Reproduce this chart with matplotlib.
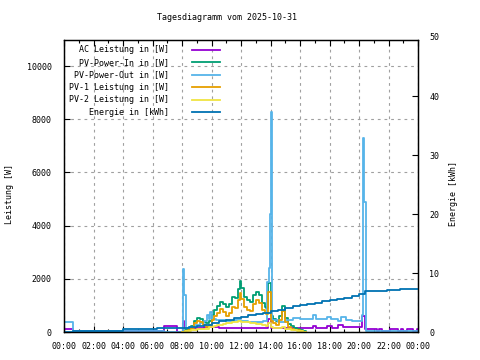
import matplotlib
matplotlib.use("Agg")
import matplotlib.pyplot as plt
from matplotlib.ticker import MultipleLocator, FixedLocator
import matplotlib.transforms as mtransforms

plt.rcParams['font.family'] = ['DejaVu Sans Mono']
FS = 6

title = "Tagesdiagramm vom 2025-10-31"
labels = ["AC Leistung in [W]", "PV-Power-In in [W]", "PV-Power-Out in [W]",
          "PV-1 Leistung in [W]", "PV-2 Leistung in [W]", "Energie in [kWh]"]
colors = ["#9400d3", "#009e73", "#56b4e9", "#e69f00", "#f0e442", "#0072b2"]
xtick_labels = ["00:00", "02:00", "04:00", "06:00", "08:00", "10:00", "12:00",
                "14:00", "16:00", "18:00", "20:00", "22:00", "00:00"]

# AC Leistung [W]
ac_hours = [0.0, 0.58, 6.8, 7.64, 8.05, 8.15, 9.5, 10.5, 13.8, 14.05, 16.9, 17.1, 17.8,
            18.2, 18.6, 18.9, 20.2, 20.4, 21.2, 21.36, 21.56, 22.1, 22.64, 22.85,
            22.98, 23.25, 23.66, 23.93, 24.0]
ac_watt = [125, 55, 215, 0, 414, 150, 170, 160, 480, 150, 225, 150, 225,
           160, 250, 200, 610, 100, 40, 100, 40, 100, 40, 100,
           40, 100, 40, 100, 100]

# PV day series [W]
pv_hours = [8.0, 8.2, 8.4, 8.6, 8.8, 9.0, 9.2, 9.4, 9.6, 9.8, 10.0, 10.2, 10.4, 10.6,
            10.8, 11.0, 11.2, 11.4, 11.6, 11.8, 11.9, 12.0, 12.2, 12.4, 12.6, 12.8,
            13.0, 13.2, 13.4, 13.6, 13.7, 13.85, 14.0, 14.2, 14.4, 14.6, 14.8, 15.0,
            15.2, 15.4, 15.6, 15.8, 16.0, 16.2, 16.4]
pv_in = [0, 60, 120, 220, 420, 530, 480, 370, 330, 430, 650, 840, 960, 1130,
         1050, 940, 1060, 1320, 1290, 1600, 1930, 1650, 1330, 1190, 1130, 1380,
         1510, 1390, 1090, 950, 920, 1830, 600, 490, 410, 590, 970, 510,
         310, 210, 160, 110, 60, 20, 0]
pv1 = [0, 40, 80, 160, 330, 420, 380, 250, 200, 260, 450, 600, 700, 850,
       750, 620, 720, 950, 900, 1200, 1480, 1250, 950, 820, 780, 1050,
       1200, 1100, 820, 700, 680, 1500, 420, 330, 260, 450, 800, 380,
       200, 120, 90, 60, 30, 10, 0]
pv2 = [0, 20, 40, 60, 90, 110, 100, 120, 130, 170, 200, 240, 260, 280,
       300, 320, 340, 370, 390, 400, 400, 390, 380, 370, 350, 330,
       310, 290, 270, 250, 240, 330, 180, 160, 150, 140, 170, 130,
       110, 90, 70, 50, 30, 10, 0]

# PV-Power-Out [W]
out_hours = [0.0, 0.58, 6.8, 8.05, 8.15, 8.25, 8.5, 8.8, 9.2, 9.5, 9.7, 9.8, 9.9, 10.0,
             10.3, 11.0, 11.5, 12.0, 12.5, 13.0, 13.5, 13.75, 13.88, 13.95, 14.02,
             14.08, 14.5, 15.0, 15.5, 16.0, 16.9, 17.1, 17.8, 18.1, 18.6, 18.75, 19.1,
             19.5, 20.2, 20.3, 20.37, 20.45, 24.0]
out_watt = [390, 45, 0, 2360, 1390, 150, 200, 260, 330, 400, 650, 500, 750, 500,
            450, 430, 450, 420, 390, 380, 400, 1890, 2400, 4440, 8280,
            450, 390, 450, 515, 475, 640, 475, 575, 475, 414, 575, 450,
            414, 640, 7300, 4900, 37, 37]

# Energie [kWh]
en_hours = [0.0, 0.58, 4.0, 6.3, 8.5, 9.0, 9.5, 10.0, 10.5, 11.0, 11.5, 12.0, 12.5,
            13.0, 13.5, 14.0, 14.5, 15.0, 15.5, 16.0, 16.5, 17.0, 17.5, 18.0, 18.5,
            19.0, 19.5, 20.0, 20.4, 21.9, 22.8, 24.0]
en_kwh = [0.0, 0.2, 0.45, 0.6, 0.8, 1.0, 1.25, 1.55, 1.8, 2.05, 2.3, 2.6, 2.85,
          3.05, 3.25, 3.5, 3.8, 4.1, 4.35, 4.6, 4.8, 5.0, 5.2, 5.4, 5.6,
          5.85, 6.1, 6.4, 6.95, 7.1, 7.35, 7.35]

W, H = 480, 360
fig = plt.figure(figsize=(4.8, 3.6), dpi=100)
ax = fig.add_axes([64 / W, 1 - 332 / H, (418 - 64) / W, (332 - 39.5) / H])
ax2 = ax.twinx()

lw = 1.3
h_ac, = ax.step(ac_hours, ac_watt, where='post', color=colors[0], lw=lw)
h_in, = ax.step(pv_hours, pv_in, where='post', color=colors[1], lw=lw)
h_out, = ax.step(out_hours, out_watt, where='post', color=colors[2], lw=lw)
h_p1, = ax.step(pv_hours, pv1, where='post', color=colors[3], lw=lw)
h_p2, = ax.step(pv_hours, pv2, where='post', color=colors[4], lw=lw)
h_en, = ax2.step(en_hours, en_kwh, where='post', color=colors[5], lw=lw)

ax.set_xlim(0, 24)
ax.set_ylim(0, 11000)
ax2.set_ylim(0, 49.6)

ax.xaxis.set_major_locator(MultipleLocator(2))
ax.xaxis.set_minor_locator(MultipleLocator(1))
ax.set_xticks(range(0, 25, 2))
ax.set_xticklabels(xtick_labels)
ax.yaxis.set_major_locator(FixedLocator([0, 2000, 4000, 6000, 8000, 10000]))
ax2.yaxis.set_major_locator(FixedLocator([0, 10, 20, 30, 40]))

ax.tick_params(axis='x', which='both', direction='in', top=True, labelsize=FS, pad=7)
ax.tick_params(axis='x', which='major', length=4, width=0.8)
ax.tick_params(axis='x', which='minor', length=2, width=0.8)
ax.tick_params(axis='y', direction='in', length=4, width=0.8, labelsize=FS, pad=9)
ax2.tick_params(axis='y', direction='in', length=4, width=0.8, labelsize=FS, pad=8)

for a in (ax, ax2):
    for s in a.spines.values():
        s.set_linewidth(0.9)
        s.set_color('black')

# extra '50' label for right axis at its data position
trans = mtransforms.blended_transform_factory(ax2.transAxes, ax2.transData)
ax2.text(1.0 + 11 / 354, 50, "50", transform=trans, fontsize=FS, ha='left', va='center',
         clip_on=False)

ax.grid(True, which='major', axis='both', color='#a0a0a0', lw=0.8, linestyle=(0, (2.5, 3.5)))
ax.set_axisbelow(True)

fig.text(227 / W, 1 - 18 / H, title, fontsize=FS, ha='center', va='center')
fig.text(10 / W, 1 - 194.5 / H, "Leistung [W]", fontsize=FS, rotation=90, ha='center', va='center')
fig.text(453 / W, 1 - 194 / H, "Energie [kWh]", fontsize=FS, rotation=90, ha='center', va='center')

maxlen = max(len(l) for l in labels)
padded = [l.rjust(maxlen) for l in labels]
handles = [h_ac, h_in, h_out, h_p1, h_p2, h_en]
leg = ax2.legend(handles, padded, loc='upper left', bbox_to_anchor=((69.3 - 64) / 354, 1 - 6 / 292.5),
                 frameon=False, markerfirst=False, fontsize=FS, handlelength=3.4,
                 handletextpad=2.7, labelspacing=0.42, borderpad=0, borderaxespad=0)

fig.savefig("out.png", dpi=100)
